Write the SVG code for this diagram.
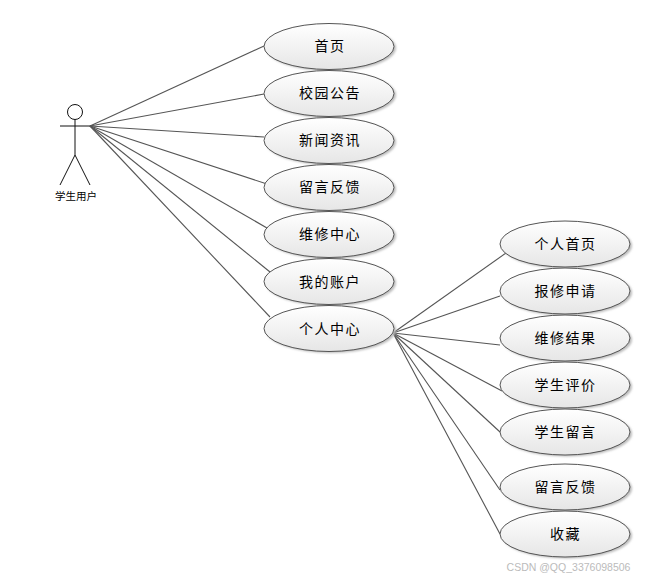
<svg xmlns="http://www.w3.org/2000/svg" width="646" height="578" viewBox="0 0 646 578">
<defs>
<linearGradient id="g" x1="0" y1="0" x2="0" y2="1"><stop offset="0" stop-color="#ffffff"/><stop offset="1" stop-color="#e6e6e6"/></linearGradient>
<filter id="s" x="-10%" y="-10%" width="125%" height="130%"><feGaussianBlur stdDeviation="1.2"/></filter>
<ellipse id="u" cx="0" cy="0" rx="65" ry="23"/>
</defs>
<style>
text{font-family:"Noto Sans CJK SC","Liberation Sans",sans-serif;fill:#000;text-anchor:middle}
.l{font-size:14px;letter-spacing:1.5px}
.e{fill:url(#g);stroke:#555;stroke-width:1}
.sh{fill:#bbb;filter:url(#s)}
.c line{stroke:#555;stroke-width:1.1}
.a{fill:none;stroke:#111;stroke-width:1}
</style>
<rect width="646" height="578" fill="#fff"/>
<g class="c" id="connectors">
<line x1="90" y1="126" x2="264" y2="46"/>
<line x1="90" y1="126" x2="264" y2="94"/>
<line x1="90" y1="126" x2="264" y2="137"/>
<line x1="90" y1="126" x2="267" y2="184"/>
<line x1="90" y1="126" x2="267" y2="228"/>
<line x1="90" y1="126" x2="270" y2="272"/>
<line x1="90" y1="126" x2="270" y2="317"/>
<line x1="393" y1="333" x2="506" y2="253"/>
<line x1="393" y1="333" x2="500" y2="296"/>
<line x1="393" y1="333" x2="500" y2="345"/>
<line x1="393" y1="333" x2="502" y2="391"/>
<line x1="393" y1="333" x2="500" y2="432"/>
<line x1="393" y1="333" x2="500" y2="490"/>
<line x1="393" y1="333" x2="500" y2="534"/>
</g>
<g id="actor">
<circle class="a" cx="75" cy="112" r="7.5"/>
<line class="a" x1="60" y1="126" x2="90" y2="126"/>
<line class="a" x1="75" y1="119.500" x2="75" y2="155"/>
<line class="a" x1="75" y1="155" x2="60" y2="185"/>
<line class="a" x1="75" y1="155" x2="90" y2="185"/>
<text x="76" y="200" font-size="10.500">学生用户</text>
</g>
<g id="n1"><use href="#u" class="sh" x="331" y="48"/><use href="#u" class="e" x="329" y="46.500"/><text class="l" x="330" y="51">首页</text></g>
<g id="n2"><use href="#u" class="sh" x="331" y="95"/><use href="#u" class="e" x="329" y="93.500"/><text class="l" x="330" y="98">校园公告</text></g>
<g id="n3"><use href="#u" class="sh" x="331" y="142"/><use href="#u" class="e" x="329" y="140.500"/><text class="l" x="330" y="145">新闻资讯</text></g>
<g id="n4"><use href="#u" class="sh" x="331" y="189"/><use href="#u" class="e" x="329" y="187.500"/><text class="l" x="330" y="192">留言反馈</text></g>
<g id="n5"><use href="#u" class="sh" x="331" y="236"/><use href="#u" class="e" x="329" y="234.500"/><text class="l" x="330" y="239">维修中心</text></g>
<g id="n6"><use href="#u" class="sh" x="331" y="283"/><use href="#u" class="e" x="329" y="281.500"/><text class="l" x="330" y="287">我的账户</text></g>
<g id="n7"><use href="#u" class="sh" x="331" y="330"/><use href="#u" class="e" x="329" y="328.500"/><text class="l" x="330" y="334">个人中心</text></g>
<g id="m1"><use href="#u" class="sh" x="567" y="245.500"/><use href="#u" class="e" x="565" y="244"/><text class="l" x="565.500" y="248.500">个人首页</text></g>
<g id="m2"><use href="#u" class="sh" x="567" y="292.500"/><use href="#u" class="e" x="565" y="291"/><text class="l" x="565.500" y="296">报修申请</text></g>
<g id="m3"><use href="#u" class="sh" x="567" y="339.500"/><use href="#u" class="e" x="565" y="338"/><text class="l" x="565.500" y="343">维修结果</text></g>
<g id="m4"><use href="#u" class="sh" x="567" y="386.500"/><use href="#u" class="e" x="565" y="385"/><text class="l" x="565.500" y="390">学生评价</text></g>
<g id="m5"><use href="#u" class="sh" x="567" y="433.500"/><use href="#u" class="e" x="565" y="432"/><text class="l" x="565.500" y="437">学生留言</text></g>
<g id="m6"><use href="#u" class="sh" x="567" y="488.500"/><use href="#u" class="e" x="565" y="487"/><text class="l" x="565.500" y="491.500">留言反馈</text></g>
<g id="m7"><use href="#u" class="sh" x="567" y="535.500"/><use href="#u" class="e" x="565" y="534"/><text class="l" x="565.500" y="538.500">收藏</text></g>
<text x="568.500" y="571" font-size="10.500" style="font-family:'Liberation Sans',sans-serif;fill:#bbb">CSDN @QQ_3376098506</text>
</svg>
